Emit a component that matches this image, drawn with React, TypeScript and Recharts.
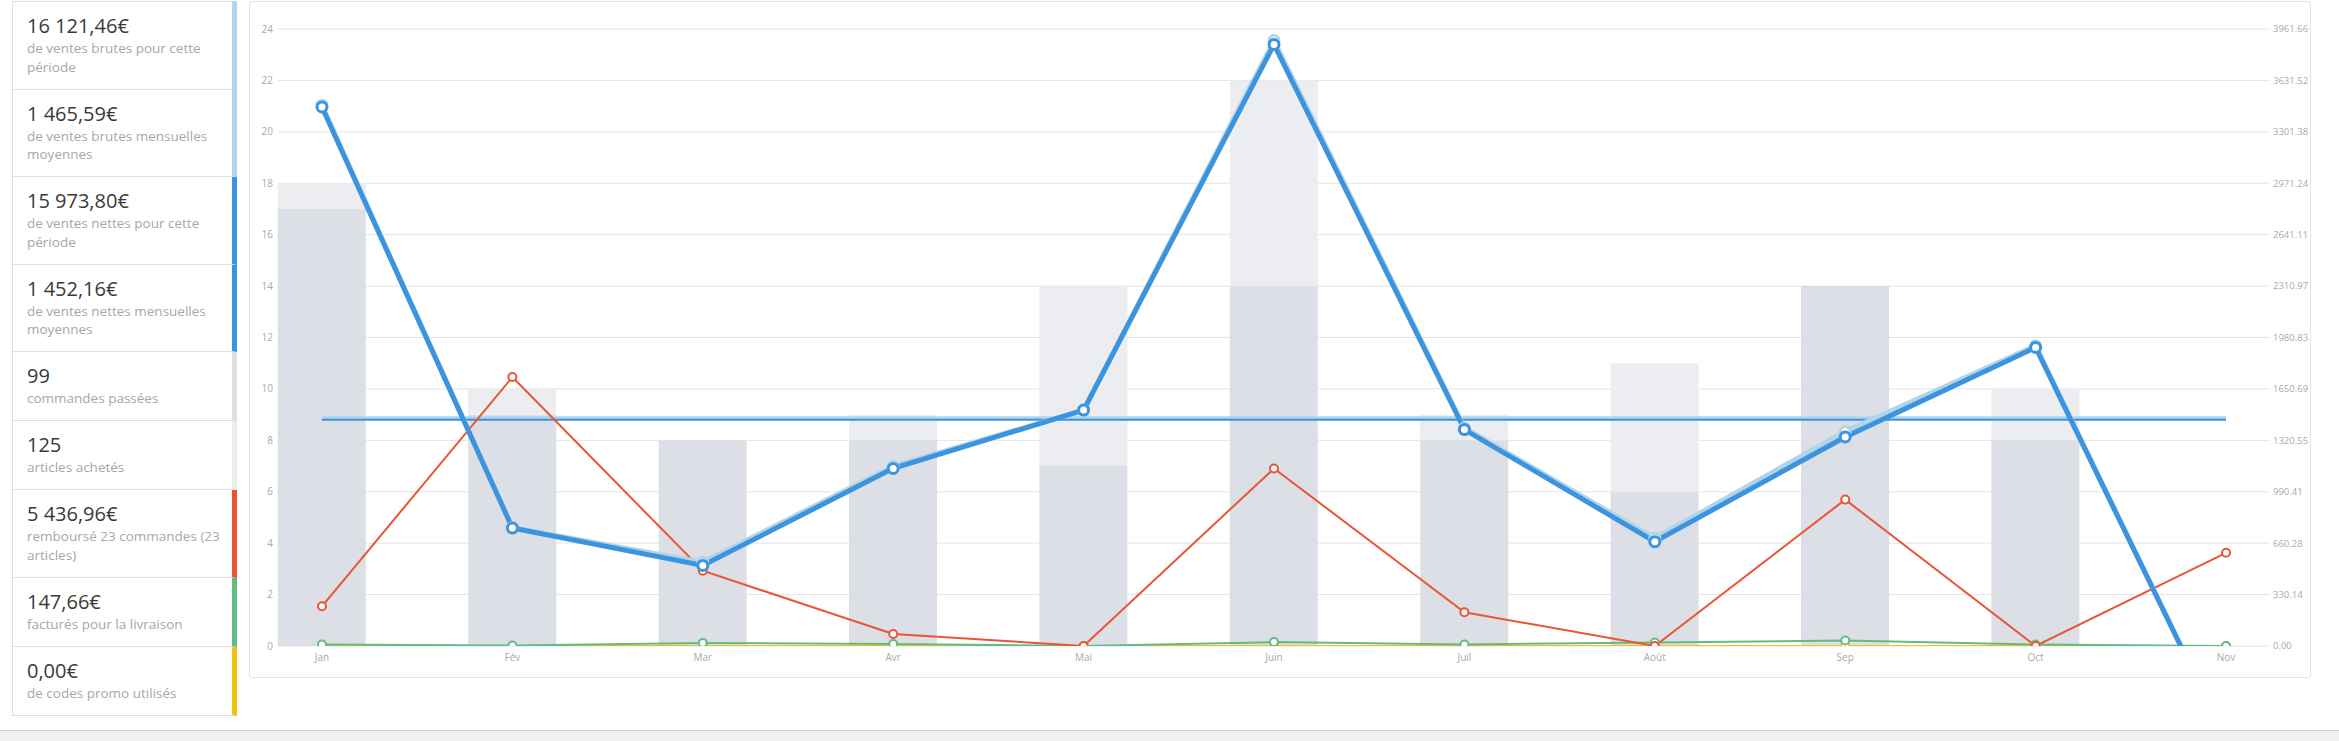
import React from "react";
import {
  ComposedChart,
  Bar,
  Line,
  XAxis,
  YAxis,
  CartesianGrid,
} from "recharts";

// Monthly sales report (Jan – Nov)
const months = ["Jan", "Fév", "Mar", "Avr", "Mai", "Juin", "Juil", "Août", "Sep", "Oct", "Nov"];
const ordersPlaced = [17, 9, 8, 8, 7, 14, 8, 6, 14, 8, 0];
const itemsPurchased = [18, 10, 8, 9, 14, 22, 9, 11, 14, 10, 0];
const netSales = [3461.2, 757.3, 517.6, 1140.4, 1514.9, 3862.1, 1389.5, 669.8, 1342.2, 1917.3, -598.5];
const shippingCharged = [10, 3, 20, 13, 0, 25, 10, 22, 35, 9.66, 0];
const refunded = [255, 1726.7, 483.3, 77, 0, 1140, 216.46, 0, 940, 0, 598.5];
const couponsUsed = [0, 0, 0, 0, 0, 0, 0, 0, 0, 0, 0];

const grossTotal = 16121.46;
const netTotal = 15973.8;

const leftTicks = [0, 2, 4, 6, 8, 10, 12, 14, 16, 18, 20, 22, 24];
const rightTickLabels = [
  "0.00", "330.14", "660.28", "990.41", "1320.55", "1650.69", "1980.83",
  "2310.97", "2641.11", "2971.24", "3301.38", "3631.52", "3961.66",
];
const rightTicks = rightTickLabels.map(Number);

// Summary panel entries
const summaryValues = [
  "16 121,46€", "1 465,59€", "15 973,80€", "1 452,16€", "99", "125",
  "5 436,96€", "147,66€", "0,00€",
];
const summaryLabels: string[][] = [
  ["de ventes brutes pour cette", "période"],
  ["de ventes brutes mensuelles", "moyennes"],
  ["de ventes nettes pour cette", "période"],
  ["de ventes nettes mensuelles", "moyennes"],
  ["commandes passées"],
  ["articles achetés"],
  ["remboursé 23 commandes (23", "articles)"],
  ["facturés pour la livraison"],
  ["de codes promo utilisés"],
];

const C_GROSS = "#b1d4ea";
const C_NET = "#3d94de";
const C_ORDERS = "#dcdfe5";
const C_ITEMS = "#ecedf1";
const C_REFUND = "#ea5535";
const C_SHIP = "#62bb86";
const C_COUPON = "#f1c40f";
const summaryColors = [C_GROSS, C_GROSS, C_NET, C_NET, C_ORDERS, C_ITEMS, C_REFUND, C_SHIP, C_COUPON];

const monthCount = months.length;
const data = months.map((m, i) => ({
  i,
  month: m,
  orders: ordersPlaced[i],
  extraItems: itemsPurchased[i] - ordersPlaced[i],
  net: netSales[i],
  gross: netSales[i] + shippingCharged[i],
  shipping: shippingCharged[i],
  refunds: refunded[i],
  coupons: couponsUsed[i],
  avgGross: grossTotal / monthCount,
  avgNet: netTotal / monthCount,
}));

const FONT = '"Open Sans", Roboto, sans-serif';
const tickStyle = { fill: "#a9a9a9", fontSize: 10, fontFamily: FONT };
const rightTickStyle = { fill: "#a9a9a9", fontSize: 9.5, fontFamily: FONT };

const openDot = (color: string, r: number, w: number) => ({
  r,
  stroke: color,
  strokeWidth: w,
  fill: "#ffffff",
});

function Summary() {
  return (
    <div style={{ position: "absolute", left: 12, top: 1, width: 225 }}>
      {summaryValues.map((v, k) => (
        <div
          key={k}
          style={{
            boxSizing: "border-box",
            borderLeft: "1px solid #dfdfdf",
            borderTop: k === 0 ? "1px solid #dfdfdf" : "none",
            borderBottom: "1px solid #dfdfdf",
            borderRight: `5px solid ${summaryColors[k]}`,
            padding: "11px 6px 12.5px 14px",
            width: 225,
          }}
        >
          <div style={{ fontSize: 20, lineHeight: "26px", color: "#3a3a3a", whiteSpace: "nowrap" }}>{v}</div>
          {summaryLabels[k].map((t, j) => (
            <div key={j} style={{ fontSize: 13.5, lineHeight: "18.5px", color: "#a7a7a7", whiteSpace: "nowrap" }}>
              {t}
            </div>
          ))}
        </div>
      ))}
    </div>
  );
}

export default function App() {
  return (
    <div
      style={{
        position: "absolute",
        left: 0,
        top: 0,
        width: 2339,
        height: 741,
        background: "#f0f0f1",
        fontFamily: FONT,
        overflow: "hidden",
      }}
    >
      <div
        style={{
          position: "absolute",
          left: 0,
          top: 0,
          width: 2339,
          height: 730,
          background: "#ffffff",
          borderBottom: "1px solid #cfcfcf",
        }}
      >
        <Summary />
        <div
          style={{
            position: "absolute",
            left: 249,
            top: 1,
            width: 2062,
            height: 677,
            boxSizing: "border-box",
            border: "1px solid #e3e3e3",
            borderRadius: 3,
            background: "#ffffff",
          }}
        >
          <ComposedChart
            width={2060}
            height={675}
            data={data}
            margin={{ top: 27, right: 0, bottom: 0, left: 0 }}
          >
            <CartesianGrid yAxisId="left" vertical={false} stroke="#e4e4e4" />
            <XAxis
              dataKey="i"
              type="number"
              domain={[-0.231, 10.231]}
              ticks={months.map((_, i) => i)}
              tickFormatter={(v: number) => months[v]}
              axisLine={false}
              tickLine={false}
              tickSize={0}
              tickMargin={8}
              height={31}
              tick={tickStyle}
              interval={0}
            />
            <YAxis
              yAxisId="left"
              orientation="left"
              domain={[0, 24]}
              ticks={leftTicks}
              width={28}
              axisLine={false}
              tickLine={false}
              tickSize={0}
              tickMargin={5}
              tick={tickStyle}
              interval={0}
            />
            <YAxis
              yAxisId="right"
              orientation="right"
              domain={[0, 3961.66]}
              allowDataOverflow
              ticks={rightTicks}
              tickFormatter={(v: number) => rightTickLabels[rightTicks.indexOf(v)]}
              width={40}
              axisLine={false}
              tickLine={false}
              tickSize={0}
              tickMargin={3}
              tick={rightTickStyle}
              interval={0}
            />
            <Bar yAxisId="left" dataKey="orders" stackId="count" fill={C_ORDERS} barSize={88} isAnimationActive={false} />
            <Bar yAxisId="left" dataKey="extraItems" stackId="count" fill={C_ITEMS} barSize={88} isAnimationActive={false} />
            <Line yAxisId="right" dataKey="avgGross" stroke={C_GROSS} strokeWidth={3} dot={false} isAnimationActive={false} />
            <Line yAxisId="right" dataKey="avgNet" stroke={C_NET} strokeWidth={2} dot={false} isAnimationActive={false} />
            <Line yAxisId="right" dataKey="coupons" stroke={C_COUPON} strokeWidth={2} dot={openDot(C_COUPON, 4, 2)} isAnimationActive={false} />
            <Line yAxisId="right" dataKey="shipping" stroke={C_SHIP} strokeWidth={2} dot={openDot(C_SHIP, 4, 2)} isAnimationActive={false} />
            <Line yAxisId="right" dataKey="refunds" stroke={C_REFUND} strokeWidth={2} dot={openDot(C_REFUND, 4, 2)} isAnimationActive={false} />
            <Line yAxisId="right" dataKey="gross" stroke={C_GROSS} strokeWidth={5} dot={openDot(C_GROSS, 5, 3)} isAnimationActive={false} />
            <Line yAxisId="right" dataKey="net" stroke={C_NET} strokeWidth={5} dot={openDot(C_NET, 5, 3)} isAnimationActive={false} />
          </ComposedChart>
        </div>
      </div>
    </div>
  );
}
